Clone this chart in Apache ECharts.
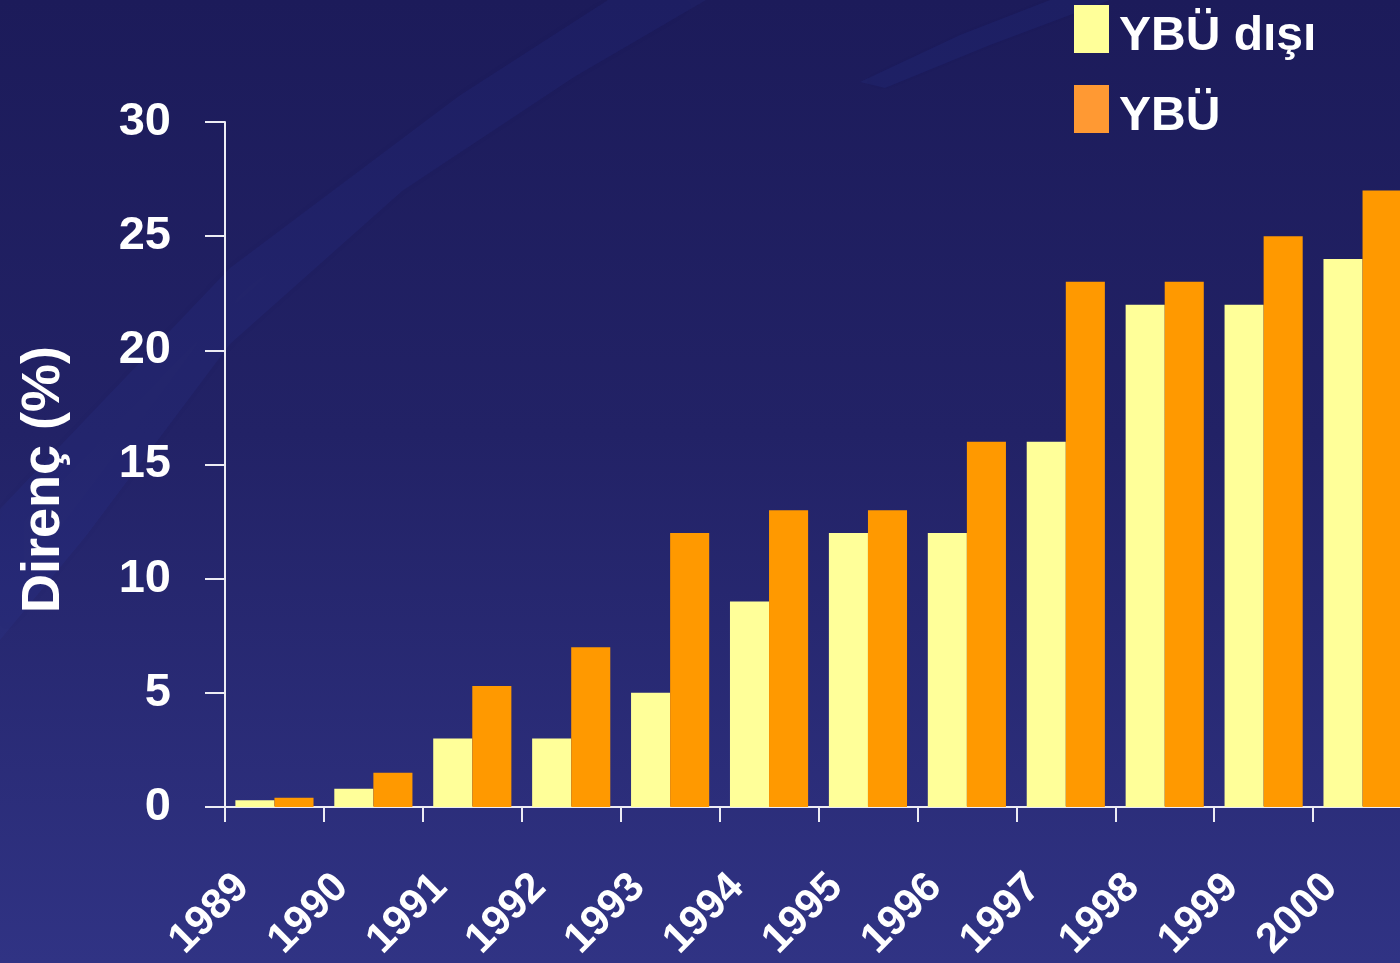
<!DOCTYPE html>
<html>
<head>
<meta charset="utf-8">
<style>
  html, body { margin: 0; padding: 0; background: #23246a; }
  #chart { width: 1400px; height: 963px; }
</style>
<script src="https://cdn.jsdelivr.net/npm/echarts@6/dist/echarts.min.js"></script>
</head>
<body>
<div id="chart"></div>
<script>
// Resistance rates by year, outside ICU vs ICU
const years = ['1989', '1990', '1991', '1992', '1993', '1994', '1995', '1996', '1997', '1998', '1999', '2000'];
const ybuDisi = [0.3, 0.8, 3, 3, 5, 9, 12, 12, 16, 22, 22, 24];
const ybu = [0.4, 1.5, 5.3, 7, 12, 13, 13, 16, 23, 23, 25, 27];
const yTicks = [0, 5, 10, 15, 20, 25, 30];

const seriesNames = ['YBÜ dışı', 'YBÜ'];
const barColors = ['#FFFF99', '#FF9900'];
const legendColors = ['#FFFF99', '#FF9933'];

const FONT = '"Liberation Sans", Arial, sans-serif';
const axisColor = '#ECECF4';

// Legend swatch: a filled square sitting in the upper part of a taller slot,
// so the label text lines up slightly below the swatch centre.
const legendSwatch = 'path://M0,0L35,0L35,48L0,48Z M0,64L0.01,64L0.01,64.01Z';

const chart = echarts.init(document.getElementById('chart'));

chart.setOption({
  backgroundColor: {
    type: 'linear', x: 0, y: 0, x2: 0, y2: 1,
    colorStops: [
      { offset: 0, color: '#1C1B5A' },
      { offset: 0.45, color: '#222266' },
      { offset: 1, color: '#303384' }
    ]
  },
  animation: false,
  graphic: [
    {
      // faint diagonal swoosh across the backdrop
      type: 'polygon',
      z: -10,
      silent: true,
      shape: { points: [[0, 509], [230, 268], [459, 96], [608, 0], [706, 0], [574, 77], [402, 191], [230, 344], [86, 536], [0, 640]] },
      style: { fill: 'rgba(50, 80, 190, 0.09)', shadowBlur: 20, shadowColor: 'rgba(50,80,190,0.12)' }
    },
    {
      type: 'polygon',
      z: -10,
      silent: true,
      shape: { points: [[860, 82], [960, 35], [1050, 0], [1110, 0], [990, 45], [885, 88]] },
      style: { fill: 'rgba(50, 80, 190, 0.10)', shadowBlur: 12, shadowColor: 'rgba(50,80,190,0.12)' }
    }
  ],
  legend: {
    orient: 'vertical',
    left: 1074,
    top: 5,
    padding: 0,
    itemWidth: 35,
    itemHeight: 64,
    itemGap: 16,
    icon: legendSwatch,
    selectedMode: false,
    textStyle: {
      color: '#FFFFFF',
      fontFamily: FONT,
      fontWeight: 'bold',
      fontSize: 48,
      padding: [0, 0, 0, 5]
    },
    data: seriesNames.map((n, i) => ({ name: n, itemStyle: { color: legendColors[i] } }))
  },
  grid: {
    left: 225,
    right: -12,
    top: 122,
    bottom: 156,
    containLabel: false,
    outerBoundsMode: 'none'
  },
  xAxis: {
    type: 'category',
    data: years,
    axisLine: { show: true, lineStyle: { color: axisColor, width: 2 } },
    axisTick: { show: true, length: 15, lineStyle: { color: axisColor, width: 2 } },
    axisLabel: {
      rotate: 45,
      margin: 42,
      padding: [0, 45, 0, 0],
      color: '#FFFFFF',
      fontFamily: FONT,
      fontWeight: 'bold',
      fontSize: 42,
      interval: 0
    },
    splitLine: { show: false }
  },
  yAxis: {
    type: 'value',
    min: 0,
    max: 30,
    interval: 5,
    name: 'Direnç (%)',
    nameLocation: 'middle',
    nameGap: 154,
    nameTextStyle: {
      color: '#FFFFFF',
      fontFamily: FONT,
      fontWeight: 'bold',
      fontSize: 54,
      padding: [0, 30, 0, 0]
    },
    axisLine: { show: true, lineStyle: { color: axisColor, width: 2 } },
    axisTick: { show: true, length: 20, lineStyle: { color: axisColor, width: 2 } },
    axisLabel: {
      margin: 54,
      color: '#FFFFFF',
      fontFamily: FONT,
      fontWeight: 'bold',
      fontSize: 47,
      formatter: v => (yTicks.includes(v) ? String(v) : '')
    },
    splitLine: { show: false }
  },
  series: [
    {
      name: seriesNames[0],
      type: 'bar',
      data: ybuDisi,
      barGap: '0%',
      barCategoryGap: '21%',
      itemStyle: { color: barColors[0] }
    },
    {
      name: seriesNames[1],
      type: 'bar',
      data: ybu,
      barGap: '0%',
      barCategoryGap: '21%',
      itemStyle: { color: barColors[1] }
    }
  ]
});
</script>
</body>
</html>
